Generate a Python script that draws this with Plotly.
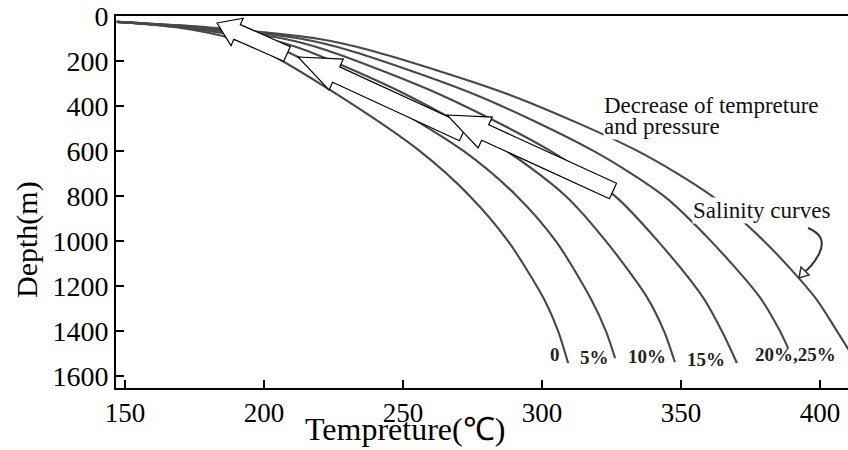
import plotly.graph_objects as go

# ---------------- data ----------------
DEPTH_LEVELS = [25, 50, 100, 150, 350, 600, 800, 1000, 1250, 1400]   # m
SALINITY = ["0", "5%", "10%", "15%", "20%", "25%"]
T_0 = [147.1, 169.1, 188.8, 199.3, 226.6, 256.1, 274.1, 287.8, 300.4, 305.8, 309.4]
T_5 = [147.1, 171.2, 195.0, 206.8, 238.8, 271.9, 291.0, 305.0, 317.3, 323.0, 326.3]
T_10 = [147.1, 173.7, 201.1, 214.7, 251.4, 287.4, 308.6, 323.0, 337.8, 343.9, 347.8]
T_15 = [147.1, 175.9, 207.2, 222.3, 263.7, 303.2, 326.3, 341.7, 357.9, 364.7, 370.1]
T_20 = [147.1, 178.4, 213.3, 230.2, 276.3, 318.7, 343.9, 360.8, 378.4, 385.6, 388.5]
T_25 = [147.1, 180.6, 219.4, 237.8, 288.5, 334.5, 361.2, 379.9, 398.2, 406.1, 414.4]
END_DEPTH = [1542, 1520, 1538, 1542, 1476, 1564]
X_TICKS = [150, 200, 250, 300, 350, 400]
Y_TICKS = [0, 200, 400, 600, 800, 1000, 1200, 1400, 1600]

CURVES = [T_0, T_5, T_10, T_15, T_20, T_25]

# ---------------- layout geometry ----------------
W, H = 848, 450
ML, MR, MT, MB = 116, 0, 16, 62
X_RANGE = [146.8, 410.07]
Y_RANGE = [1653, -1]          # reversed depth axis
PW, PH = W - ML - MR, H - MT - MB
FONT = "Liberation Serif, Times New Roman, serif"


def px2x(px):
    return X_RANGE[0] + (px - ML) / PW * (X_RANGE[1] - X_RANGE[0])


def py2y(py):
    return Y_RANGE[1] + (py - MT) / PH * (Y_RANGE[0] - Y_RANGE[1])


def paper_x(px):
    return (px - ML) / PW


def paper_y(py):
    return (H - MB - py) / PH


fig = go.Figure()

for name, temps, dend in zip(SALINITY, CURVES, END_DEPTH):
    fig.add_trace(go.Scatter(
        x=temps, y=DEPTH_LEVELS + [dend], mode="lines", name=name,
        line=dict(color="#484848", width=2.1, shape="spline", smoothing=0.8),
        showlegend=False, hoverinfo="skip"))


def block_arrow(tail, tip, shw, hhw, hlen):
    tx, ty = tail
    hx, hy = tip
    dx, dy = hx - tx, hy - ty
    ln = (dx * dx + dy * dy) ** 0.5
    ux, uy = dx / ln, dy / ln
    nx, ny = -uy, ux
    bx, by = hx - ux * hlen, hy - uy * hlen
    pts = [(hx, hy),
           (bx + nx * hhw, by + ny * hhw),
           (bx + nx * shw, by + ny * shw),
           (tx + nx * shw, ty + ny * shw),
           (tx - nx * shw, ty - ny * shw),
           (bx - nx * shw, by - ny * shw),
           (bx - nx * hhw, by - ny * hhw)]
    path = "M " + " L ".join(f"{px2x(x):.3f},{py2y(y):.3f}" for x, y in pts) + " Z"
    return dict(type="path", xref="x", yref="y", path=path,
                fillcolor="white", line=dict(color="black", width=1.2),
                layer="above")


shapes = [
    block_arrow((287, 54), (217, 23), 8, 15, 22),
    block_arrow((463, 133), (298, 57), 8.5, 17, 42),
    block_arrow((613, 191), (447, 115), 8.5, 17, 42),
]

# curly pointer for "Salinity curves"
curl = (f"M {px2x(808):.3f},{py2y(228):.3f} "
        f"Q {px2x(828):.3f},{py2y(236):.3f} {px2x(819):.3f},{py2y(254):.3f} "
        f"Q {px2x(812):.3f},{py2y(267):.3f} {px2x(803):.3f},{py2y(273):.3f}")
shapes.append(dict(type="path", xref="x", yref="y", path=curl,
                   line=dict(color="#333333", width=2), layer="above"))
head = (f"M {px2x(799):.3f},{py2y(278):.3f} L {px2x(801):.3f},{py2y(267):.3f} "
        f"L {px2x(809):.3f},{py2y(275):.3f} Z")
shapes.append(dict(type="path", xref="x", yref="y", path=head,
                   fillcolor="white", line=dict(color="#333333", width=1.5),
                   layer="above"))

annotations = []

# salinity labels
label_pos = [(555, 354), (594, 357), (647, 356), (706, 359), (795, 354)]
label_txt = ["0", "5%", "10%", "15%", "20%,25%"]
for (lx, ly), t in zip(label_pos, label_txt):
    annotations.append(dict(x=px2x(lx), y=py2y(ly), xref="x", yref="y", text=f"<b>{t}</b>",
                            showarrow=False, font=dict(family=FONT, size=19, color="#222222"),
                            xanchor="center", yanchor="middle"))

# descriptive texts with white boxes
for txt, lx, ly in [("Decrease of tempreture", 603, 105),
                    ("and pressure", 603, 126),
                    ("Salinity curves", 692, 210)]:
    annotations.append(dict(x=px2x(lx), y=py2y(ly), xref="x", yref="y", text=txt,
                            showarrow=False, font=dict(family=FONT, size=23, color="#111111"),
                            xanchor="left", yanchor="middle", bgcolor="white", borderpad=0))

# axis titles
annotations.append(dict(x=paper_x(405), y=paper_y(429), xref="paper", yref="paper",
                        text="Tempreture(℃)", showarrow=False,
                        font=dict(family=FONT, size=32, color="black"),
                        xanchor="center", yanchor="middle"))
annotations.append(dict(x=paper_x(27), y=paper_y(240), xref="paper", yref="paper",
                        text="Depth(m)", showarrow=False, textangle=-90,
                        font=dict(family=FONT, size=30, color="black"),
                        xanchor="center", yanchor="middle"))

fig.update_layout(
    width=W, height=H,
    margin=dict(l=ML, r=MR, t=MT, b=MB, pad=0),
    paper_bgcolor="white", plot_bgcolor="white",
    shapes=shapes, annotations=annotations,
    xaxis=dict(range=X_RANGE, tickvals=X_TICKS, ticks="inside", ticklen=8, tickwidth=1.5,
               tickcolor="black", showline=True, linecolor="black", linewidth=2,
               mirror=True, showgrid=False, zeroline=False,
               tickfont=dict(family=FONT, size=27, color="black")),
    yaxis=dict(range=Y_RANGE, tickvals=Y_TICKS, ticks="inside", ticklen=8, tickwidth=1.5,
               tickcolor="black", showline=True, linecolor="black", linewidth=2,
               showgrid=False, zeroline=False,
               tickfont=dict(family=FONT, size=28, color="black")),
)

fig.write_html("out.html", config={"displayModeBar": False},
               post_script="document.body.style.margin='0px';")
